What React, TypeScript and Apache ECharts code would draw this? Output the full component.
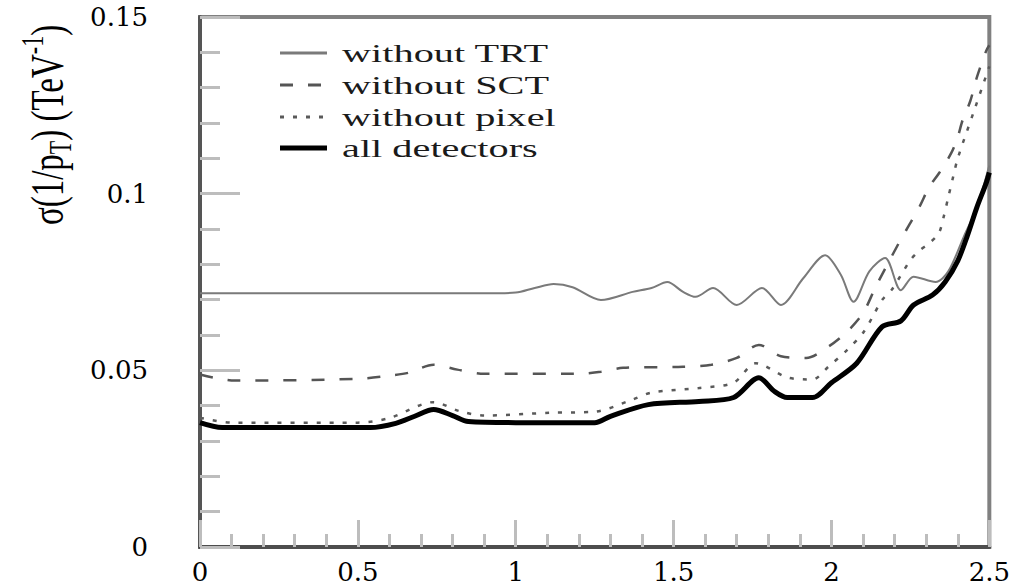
import React, { useEffect, useRef } from "react";
import * as echarts from "echarts";

// ---- data ----
const seriesNames = ["without TRT", "without SCT", "without pixel", "all detectors"];

const trtX = [0, 0.5, 0.9, 1.0, 1.06, 1.12, 1.18, 1.27, 1.37, 1.43, 1.48, 1.53, 1.57, 1.625, 1.7, 1.78, 1.84, 1.91, 1.98, 2.03, 2.07, 2.12, 2.17, 2.22, 2.26, 2.33, 2.37, 2.42, 2.46, 2.5];
const trtY = [0.0718, 0.0718, 0.0718, 0.072, 0.0733, 0.0744, 0.0735, 0.0699, 0.0722, 0.0733, 0.075, 0.0722, 0.0708, 0.0733, 0.0685, 0.0733, 0.0685, 0.076, 0.0826, 0.077, 0.0694, 0.078, 0.0818, 0.0727, 0.0765, 0.075, 0.078, 0.088, 0.096, 0.108];

const sctX = [0, 0.05, 0.11, 0.5, 0.6, 0.66, 0.74, 0.815, 0.9, 1.19, 1.27, 1.34, 1.53, 1.62, 1.7, 1.77, 1.84, 1.92, 1.99, 2.05, 2.1, 2.14, 2.215, 2.25, 2.28, 2.31, 2.34, 2.38, 2.4, 2.415, 2.44, 2.46, 2.49, 2.5];
const sctY = [0.0488, 0.0478, 0.0471, 0.0476, 0.0485, 0.0493, 0.0516, 0.0502, 0.049, 0.049, 0.0496, 0.0507, 0.051, 0.0516, 0.0535, 0.0572, 0.054, 0.0535, 0.0567, 0.061, 0.0662, 0.0736, 0.0863, 0.0917, 0.0965, 0.102, 0.1057, 0.1116, 0.116, 0.1207, 0.1263, 0.1328, 0.1404, 0.142];

const pixX = [0, 0.1, 0.5, 0.6, 0.74, 0.82, 0.9, 1.11, 1.25, 1.37, 1.43, 1.58, 1.69, 1.76, 1.86, 1.94, 1.99, 2.05, 2.1, 2.13, 2.16, 2.19, 2.25, 2.28, 2.31, 2.34, 2.355, 2.37, 2.385, 2.4, 2.45, 2.5];
const pixY = [0.0366, 0.0352, 0.0352, 0.0365, 0.041, 0.0385, 0.0372, 0.038, 0.0383, 0.0417, 0.0437, 0.045, 0.0465, 0.052, 0.048, 0.0474, 0.051, 0.0558, 0.0606, 0.0651, 0.0699, 0.0727, 0.0812, 0.084, 0.086, 0.0888, 0.0933, 0.099, 0.1046, 0.11, 0.123, 0.136];

const allX = [0, 0.07, 0.54, 0.62, 0.68, 0.74, 0.8, 0.85, 1.0, 1.25, 1.3, 1.42, 1.58, 1.69, 1.77, 1.82, 1.86, 1.94, 2.0, 2.08, 2.16, 2.22, 2.26, 2.32, 2.36, 2.4, 2.43, 2.46, 2.49, 2.5];
const allY = [0.0352, 0.0338, 0.0338, 0.035, 0.037, 0.0389, 0.0372, 0.0355, 0.0352, 0.0352, 0.037, 0.0403, 0.0412, 0.0423, 0.0479, 0.044, 0.0423, 0.0423, 0.0465, 0.052, 0.0623, 0.064, 0.0685, 0.0713, 0.075, 0.081, 0.088, 0.096, 0.103, 0.106];

const xTicks = { min: 0, max: 2.5, interval: 0.5 };
const yTicks = { min: 0, max: 0.15, interval: 0.05 };

const zip = (xs: number[], ys: number[]) => xs.map((x, i) => [x, ys[i]]);

const lineStyles = [
  { color: "#7a7a7a", width: 2, type: "solid" as any },
  { color: "#555555", width: 2.5, type: [13, 15] as any },
  { color: "#5a5a5a", width: 2.5, type: [4, 9] as any },
  { color: "#000000", width: 5, type: "solid" as any },
];

export default function App() {
  const ref = useRef<HTMLDivElement>(null);
  useEffect(() => {
    if (!ref.current) return;
    const chart = echarts.init(ref.current, null, { renderer: "svg" });
    const datasets = [zip(trtX, trtY), zip(sctX, sctY), zip(pixX, pixY), zip(allX, allY)];
    const tickStyle = { color: "#bdbdbd", width: 3 };
    const legendRows = [53, 85, 117, 148];
    const option: any = {
      animation: false,
      backgroundColor: "#ffffff",
      grid: {
        left: 200,
        right: 23,
        top: 17,
        bottom: 41,
        show: true,
        borderColor: "#808080",
        borderWidth: 4,
        containLabel: false,
      },
      xAxis: {
        type: "value",
        min: xTicks.min,
        max: xTicks.max,
        interval: xTicks.interval,
        axisLine: { show: true, lineStyle: { color: "#4d4d4d", width: 4 } },
        axisTick: { show: true, inside: true, length: 27, lineStyle: tickStyle },
        minorTick: { show: true, splitNumber: 5, length: 13, lineStyle: tickStyle },
        splitLine: { show: false },
        axisLabel: {
          margin: 12,
          fontFamily: "DejaVu Serif",
          fontSize: 26,
          color: "#000",
        },
      },
      yAxis: {
        type: "value",
        min: yTicks.min,
        max: yTicks.max,
        interval: yTicks.interval,
        axisLine: { show: true, lineStyle: { color: "#555555", width: 4 } },
        axisTick: { show: true, inside: true, length: 40, lineStyle: tickStyle },
        minorTick: { show: true, splitNumber: 5, length: 20, lineStyle: tickStyle },
        splitLine: { show: false },
        axisLabel: {
          margin: 52,
          fontFamily: "DejaVu Serif",
          fontSize: 26,
          color: "#000",
        },
      },
      series: datasets.map((d, i) => ({
        name: seriesNames[i],
        type: "line",
        data: d,
        showSymbol: false,
        symbol: "none",
        smooth: 0.3,
        lineStyle: lineStyles[i],
        z: 2 + i,
      })),
      graphic: [
        {
          type: "text",
          x: 47,
          y: 125,
          rotation: Math.PI / 2,
          scaleY: 1.4,
          style: {
            text: "{m|σ(1/p}{sub|T}{m|) (TeV}{sup|-1}{m|)}",
            align: "center",
            verticalAlign: "middle",
            fill: "#000",
            rich: {
              m: { fontFamily: "Liberation Serif", fontSize: 33, lineHeight: 42, verticalAlign: "middle", fill: "#000" },
              sub: { fontFamily: "Liberation Serif", fontSize: 22, lineHeight: 42, verticalAlign: "bottom", fill: "#000" },
              sup: { fontFamily: "Liberation Serif", fontSize: 22, lineHeight: 42, verticalAlign: "top", fill: "#000" },
            },
          },
        },
        ...seriesNames.flatMap((name, i) => [
          {
            type: "line",
            shape: { x1: 280, y1: legendRows[i], x2: 327, y2: legendRows[i] },
            style: {
              stroke: lineStyles[i].color,
              lineWidth: i === 3 ? 5 : 3,
              lineDash: Array.isArray(lineStyles[i].type) ? lineStyles[i].type : null,
            },
          },
          {
            type: "text",
            x: 342,
            y: legendRows[i],
            scaleX: 1.55,
            style: {
              text: name,
              fontFamily: "Liberation Serif",
              fontSize: 26,
              fill: "#1a1a1a",
              align: "left",
              verticalAlign: "middle",
            },
          },
        ]),
      ],
    };
    chart.setOption(option);
    return () => chart.dispose();
  }, []);
  return (
    <div
      ref={ref}
      style={{ position: "fixed", left: 0, top: 0, width: 1013, height: 588, background: "#fff" }}
    />
  );
}
